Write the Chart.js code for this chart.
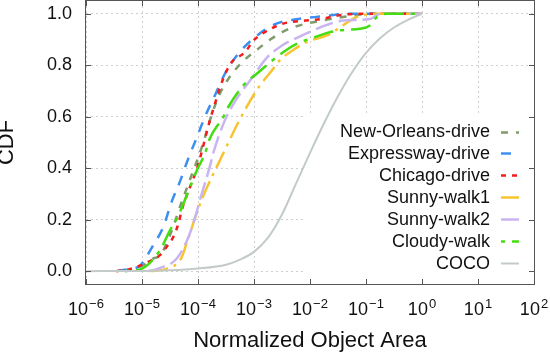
<!DOCTYPE html>
<html><head><meta charset="utf-8">
<script src="https://cdn.jsdelivr.net/npm/chart.js@4.4.1/dist/chart.umd.min.js"></script>
<style>html,body{margin:0;padding:0;background:#fff;}#wrap{width:550px;height:355px;}</style>
</head><body><div id="wrap"><canvas id="c" width="550" height="355"></canvas></div>
<script>
// ---- data (normalized object area, CDF) ----
const seriesNames = ['New-Orleans-drive','Expressway-drive','Chicago-drive','Sunny-walk1','Sunny-walk2','Cloudy-walk','COCO'];

const newOrleansX = [5.0e-6,1.0e-5,1.58e-5,2.09e-5,3.16e-5,5.13e-5,6.76e-5,1.23e-4,1.74e-4,2.45e-4,3.55e-4,6.31e-4,1.12e-3,1.95e-3,3.31e-3,5.37e-3,2.29e-2,4.57e-2,0.132,1];
const newOrleansY = [0,0.02,0.049,0.06,0.14,0.27,0.34,0.496,0.605,0.69,0.75,0.815,0.86,0.90,0.931,0.95,0.98,0.99,1.0,1.0];

const expresswayX = [3.55e-6,6.3e-6,9.1e-6,1.58e-5,2.4e-5,3.39e-5,4.79e-5,6.76e-5,9.55e-5,1.33e-4,2.0e-4,3.02e-4,5.25e-4,1.05e-3,2.37e-3,6.17e-3,1.62e-2,4.57e-2,1];
const expresswayY = [0,0.01,0.02,0.10,0.172,0.27,0.35,0.44,0.52,0.60,0.683,0.767,0.845,0.91,0.96,0.98,0.99,1.0,1.0];

const chicagoX = [3.47e-6,5.0e-6,8.1e-6,1.29e-5,2.09e-5,2.75e-5,3.63e-5,4.47e-5,5.13e-5,6.31e-5,8.91e-5,1.12e-4,1.51e-4,2.0e-4,2.82e-4,3.98e-4,6.92e-4,9.77e-4,1.38e-3,3.31e-3,8.13e-3,1.62e-2,2.57e-2,6.76e-2,1];
const chicagoY = [0,0.004,0.017,0.036,0.062,0.094,0.133,0.185,0.237,0.295,0.379,0.45,0.56,0.65,0.748,0.812,0.851,0.896,0.922,0.962,0.974,0.98,0.99,1.0,1.0];

const sunnyWalk1X = [1.41e-5,2.82e-5,5.01e-5,6.31e-5,1.0e-4,1.41e-4,2.0e-4,3.16e-4,5.01e-4,7.94e-4,1.26e-3,2.0e-3,2.88e-3,5.37e-3,1.0e-2,2.0e-2,3.47e-2,6.76e-2,0.155,1];
const sunnyWalk1Y = [0,0.01,0.05,0.11,0.24,0.32,0.39,0.48,0.57,0.65,0.72,0.775,0.819,0.864,0.896,0.916,0.948,0.987,1.0,1.0];

const sunnyWalk2X = [1.26e-5,1.95e-5,4.17e-5,6.76e-5,8.91e-5,1.10e-4,1.62e-4,1.86e-4,3.02e-4,4.90e-4,8.51e-4,1.70e-3,3.16e-3,5.0e-3,1.0e-2,2.0e-2,3.89e-2,0.117,0.178,1];
const sunnyWalk2Y = [0,0.01,0.049,0.133,0.21,0.282,0.405,0.457,0.586,0.67,0.741,0.83,0.877,0.90,0.93,0.957,0.974,0.98,1.0,1.0];

const cloudyWalkX = [5.0e-6,1.0e-5,2.09e-5,3.16e-5,4.47e-5,7.24e-5,9.55e-5,1.33e-4,1.62e-4,2.82e-4,3.47e-4,6.46e-4,1.12e-3,1.95e-3,3.31e-3,5.75e-3,1.0e-2,2.29e-2,4.22e-2,7.76e-2,0.117,0.155,0.234,1];
const cloudyWalkY = [0,0.01,0.081,0.159,0.217,0.327,0.392,0.457,0.515,0.599,0.638,0.722,0.767,0.812,0.851,0.883,0.903,0.929,0.938,0.942,0.955,0.987,1.0,1.0];

const cocoX = [1e-6,1e-5,3.16e-5,1e-4,3.16e-4,5.62e-4,1e-3,1.78e-3,3.16e-3,5.62e-3,1e-2,1.78e-2,3.16e-2,5.62e-2,0.1,0.178,0.316,0.562,1];
const cocoY = [0,0.0008,0.003,0.01,0.025,0.045,0.075,0.13,0.22,0.34,0.46,0.575,0.68,0.772,0.848,0.905,0.947,0.977,1.0];

const xTickExponents = [-6,-5,-4,-3,-2,-1,0,1,2];
const yTickValues = [0,0.2,0.4,0.6,0.8,1.0];

// ---- styles ----
const FONT = "'Liberation Sans', Arial, Helvetica, sans-serif";
const styles = [
  {color:'#7f9c6c', dash:[7,8], width:2.5},
  {color:'#3d8ff0', dash:[10,9], width:2.5},
  {color:'#f51c1c', dash:[5,6], width:2.5},
  {color:'#f7c430', dash:[18,6,3,6], width:2.5},
  {color:'#c9b4f2', dash:[18,6], width:2.5},
  {color:'#44dd11', dash:[4,7,20,7], width:2.5},
  {color:'#c3cbca', dash:[], width:2}
];
const xsList = [newOrleansX, expresswayX, chicagoX, sunnyWalk1X, sunnyWalk2X, cloudyWalkX, cocoX];
const ysList = [newOrleansY, expresswayY, chicagoY, sunnyWalk1Y, sunnyWalk2Y, cloudyWalkY, cocoY];

const datasets = seriesNames.map((name, i) => ({
  label: name,
  data: xsList[i].map((x, j) => ({x: x, y: ysList[i][j]})),
  borderColor: styles[i].color,
  borderDash: styles[i].dash,
  borderWidth: styles[i].width,
  borderCapStyle: 'butt',
  fill: false,
  pointRadius: 0,
  cubicInterpolationMode: 'monotone',
  order: seriesNames.length - i
}));

const framePlugin = {
  id: 'frame',
  beforeDatasetsDraw(chart) {
    const {ctx, chartArea: a} = chart;
    ctx.save();
    ctx.fillStyle = '#ffffff';
    ctx.fillRect(a.right - 231, 115, 231, a.bottom - 115);
    ctx.restore();
  },
  afterDraw(chart) {
    const {ctx, chartArea: a, scales} = chart;
    const xs = scales.x, ys = scales.y;
    ctx.save();
    // frame
    ctx.strokeStyle = '#555555';
    ctx.lineWidth = 1;
    ctx.setLineDash([]);
    ctx.strokeRect(a.left - 0.5, a.top - 0.5, a.right - a.left + 1, a.bottom - a.top + 1);
    // inner tick marks
    ctx.beginPath();
    xTickExponents.forEach(e => {
      const px = Math.round(xs.getPixelForValue(Math.pow(10, e))) + 0.5;
      ctx.moveTo(px, a.bottom); ctx.lineTo(px, a.bottom - 5);
      ctx.moveTo(px, a.top); ctx.lineTo(px, a.top + 5);
    });
    yTickValues.forEach(v => {
      const py = Math.round(ys.getPixelForValue(v)) + 0.5;
      ctx.moveTo(a.left, py); ctx.lineTo(a.left + 5, py);
      ctx.moveTo(a.right, py); ctx.lineTo(a.right - 5, py);
    });
    ctx.stroke();
    // x tick labels 10^n
    ctx.fillStyle = '#111111';
    ctx.textBaseline = 'alphabetic';
    ctx.textAlign = 'left';
    xTickExponents.forEach(e => {
      const px = xs.getPixelForValue(Math.pow(10, e));
      const base = '10';
      const sup = (e < 0 ? '\u2212' : '') + Math.abs(e);
      ctx.font = '18px ' + FONT;
      const wb = ctx.measureText(base).width;
      ctx.font = '13px ' + FONT;
      const ws = ctx.measureText(sup).width;
      const x0 = px - (wb + ws + 1) / 2;
      ctx.font = '18px ' + FONT;
      ctx.fillText(base, x0, 315);
      ctx.font = '13px ' + FONT;
      ctx.fillText(sup, x0 + wb + 1, 307.5);
    });
    // legend
    ctx.font = '18px ' + FONT;
    ctx.textAlign = 'right';
    ctx.textBaseline = 'middle';
    chart.data.datasets.forEach((ds, i) => {
      const y = 131.5 + i * 21.9;
      ctx.fillStyle = '#111111';
      ctx.fillText(ds.label, 490, y + 1);
      ctx.strokeStyle = ds.borderColor;
      ctx.lineWidth = ds.borderWidth;
      ctx.lineCap = 'butt';
      ctx.setLineDash(ds.borderDash);
      ctx.beginPath();
      ctx.moveTo(501, Math.round(y) + 0.5);
      ctx.lineTo(519, Math.round(y) + 0.5);
      ctx.stroke();
    });
    ctx.restore();
  }
};

new Chart(document.getElementById('c').getContext('2d'), {
  type: 'line',
  data: {datasets},
  options: {
    responsive: false,
    animation: false,
    devicePixelRatio: 1,
    layout: {padding: {top: 1, right: 16, left: 0, bottom: 0}},
    plugins: {legend: {display: false}, tooltip: {enabled: false}},
    scales: {
      x: {
        type: 'logarithmic', min: 1e-6, max: 1e2,
        afterBuildTicks: s => { s.ticks = xTickExponents.map(e => ({value: Math.pow(10, e)})); },
        afterFit: s => { s.height = 71; s.paddingLeft = 0; s.paddingRight = 0; },
        ticks: {display: false},
        grid: {color: '#cfcfcf', lineWidth: 1, drawTicks: false},
        border: {display: false, dash: [2, 3]},
        title: {display: true, text: 'Normalized Object Area', color: '#111111',
                font: {family: FONT, size: 22}, padding: {top: 0, bottom: 1}}
      },
      y: {
        min: -0.05, max: 1.05,
        afterBuildTicks: s => { s.ticks = yTickValues.map(v => ({value: v})); },
        afterFit: s => { s.width = 86; s.paddingTop = 0; s.paddingBottom = 0; },
        ticks: {callback: v => Number(v).toFixed(1), color: '#111111', padding: 14,
                font: {family: FONT, size: 18}},
        grid: {color: '#cfcfcf', lineWidth: 1, drawTicks: false},
        border: {display: false, dash: [2, 3]},
        title: {display: true, text: 'CDF', color: '#111111',
                font: {family: FONT, size: 22, lineHeight: 0.6}, padding: {top: 0.8, bottom: 0}}
      }
    }
  },
  plugins: [framePlugin]
});
</script>
</body></html>
